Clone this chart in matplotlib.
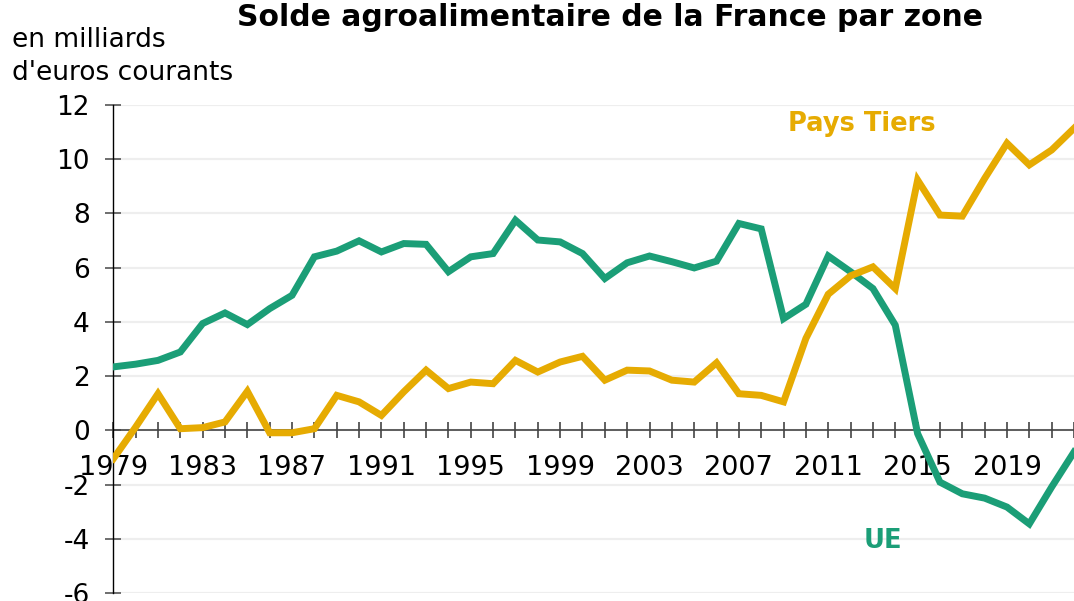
import numpy as np
import matplotlib
matplotlib.use("Agg")
import matplotlib.pyplot as plt

# data (milliards d'euros courants)
years = list(range(1979, 2023))
ue = [2.34, 2.44, 2.58, 2.89, 3.94, 4.33, 3.90, 4.49, 4.98, 6.40,
      6.61, 6.99, 6.58, 6.89, 6.86, 5.85, 6.40, 6.52, 7.75, 7.02,
      6.95, 6.52, 5.60, 6.18, 6.43, 6.22, 5.99, 6.24, 7.63, 7.43,
      4.12, 4.65, 6.43, 5.85, 5.23, 3.88, -0.12, -1.91, -2.34, -2.50,
      -2.83, -3.45, -2.09, -0.80]
pays_tiers = [-1.05, 0.12, 1.35, 0.06, 0.10, 0.31, 1.44, -0.09, -0.09, 0.06,
              1.29, 1.05, 0.55, 1.42, 2.22, 1.54, 1.78, 1.72, 2.58, 2.15,
              2.52, 2.73, 1.85, 2.22, 2.19, 1.85, 1.78, 2.49, 1.35, 1.29,
              1.05, 3.39, 5.02, 5.70, 6.03, 5.23, 9.23, 7.94, 7.90, 9.29,
              10.59, 9.79, 10.34, 11.14]
yticks = list(range(-6, 13, 2))
xlabel_years = list(range(1979, 2023, 4))

green = "#1b9e77"
yellow = "#e6ab02"

fig = plt.figure(figsize=(10.74, 6.01), dpi=100)
ax = fig.add_axes([0.1055, 0.0133, 0.8945, 0.8120])

ax.plot(years, ue, color=green, lw=5, solid_joinstyle="miter", zorder=3)
ax.plot(years, pays_tiers, color=yellow, lw=5, solid_joinstyle="miter", zorder=3)

ax.set_xlim(1979, 2022)
ax.set_ylim(-6, 12)

for y in yticks:
    ax.axhline(y, color="#eeeeee", lw=1.6, zorder=1)

for s in ["top", "right"]:
    ax.spines[s].set_visible(False)
ax.spines["left"].set_color("black")
ax.spines["left"].set_linewidth(1)
ax.spines["bottom"].set_position(("data", 0))
ax.spines["bottom"].set_color("#444444")
ax.spines["bottom"].set_linewidth(1.2)
ax.spines["bottom"].set_zorder(2)

ax.set_yticks(yticks)
ax.set_yticklabels([str(v) for v in yticks])
ax.set_xticks(years)
ax.set_xticklabels([str(y) if y in xlabel_years else "" for y in years])
ax.tick_params(axis="y", direction="inout", length=12, width=1.2,
               color="#555555", labelsize=19, pad=11)
ax.tick_params(axis="x", direction="inout", length=12, width=1.2,
               color="#444444", labelsize=19.5, pad=12)

fig.text(0.568, 0.971, "Solde agroalimentaire de la France par zone",
         ha="center", va="center", fontsize=21.5, fontweight="bold")
fig.text(0.011, 0.933, "en milliards", ha="left", va="center", fontsize=19)
fig.text(0.011, 0.878, "d'euros courants", ha="left", va="center", fontsize=19)

ax.text(2012.5, 11.3, "Pays Tiers", color=yellow, fontsize=18.5,
        fontweight="bold", ha="center", va="center")
ax.text(2013.45, -4.1, "UE", color=green, fontsize=18.5,
        fontweight="bold", ha="center", va="center")

fig.savefig("out.png", dpi=100)
